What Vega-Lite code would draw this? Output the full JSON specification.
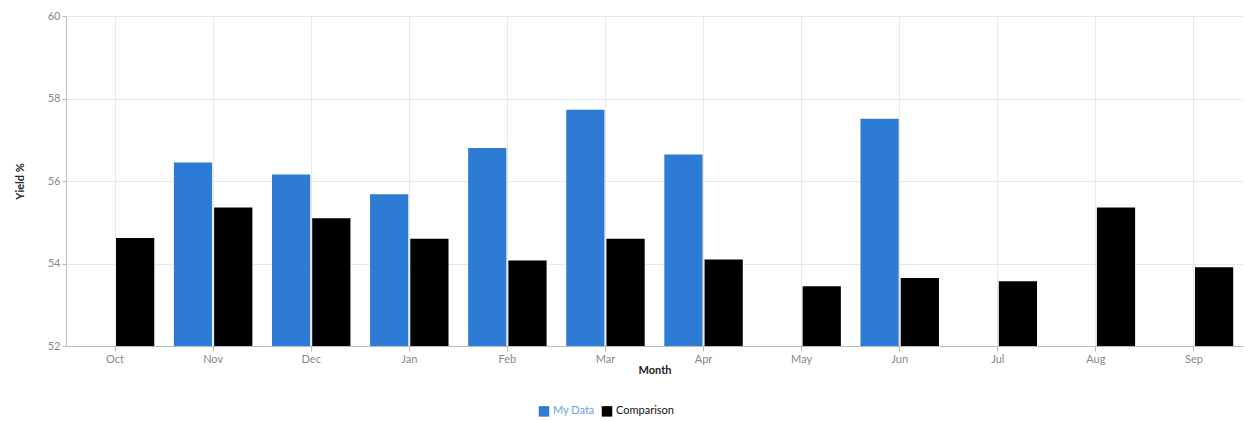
{
  "$schema": "https://vega.github.io/schema/vega-lite/v6.json",
  "width": 1177,
  "height": 330,
  "autosize": {"type": "none"},
  "padding": {"left": 66, "top": 16, "right": 7, "bottom": 75},
  "background": "white",
  "config": {
    "font": "Lato",
    "view": {"stroke": null}
  },
  "data": {
    "values": [
      {"month": "Oct", "series": "Comparison", "yield": 54.62},
      {"month": "Nov", "series": "My Data", "yield": 56.45},
      {"month": "Nov", "series": "Comparison", "yield": 55.36},
      {"month": "Dec", "series": "My Data", "yield": 56.16},
      {"month": "Dec", "series": "Comparison", "yield": 55.1},
      {"month": "Jan", "series": "My Data", "yield": 55.68},
      {"month": "Jan", "series": "Comparison", "yield": 54.6},
      {"month": "Feb", "series": "My Data", "yield": 56.8},
      {"month": "Feb", "series": "Comparison", "yield": 54.07},
      {"month": "Mar", "series": "My Data", "yield": 57.73},
      {"month": "Mar", "series": "Comparison", "yield": 54.6},
      {"month": "Apr", "series": "My Data", "yield": 56.64},
      {"month": "Apr", "series": "Comparison", "yield": 54.1},
      {"month": "May", "series": "Comparison", "yield": 53.45},
      {"month": "Jun", "series": "My Data", "yield": 57.51},
      {"month": "Jun", "series": "Comparison", "yield": 53.65},
      {"month": "Jul", "series": "Comparison", "yield": 53.57},
      {"month": "Aug", "series": "Comparison", "yield": 55.36},
      {"month": "Sep", "series": "Comparison", "yield": 53.91}
    ]
  },
  "mark": {"type": "bar", "clip": true},
  "encoding": {
    "x": {
      "field": "month",
      "type": "nominal",
      "sort": ["Oct", "Nov", "Dec", "Jan", "Feb", "Mar", "Apr", "May", "Jun", "Jul", "Aug", "Sep"],
      "scale": {"paddingInner": 0.2, "paddingOuter": 0.1},
      "axis": {
        "title": "Month",
        "labelAngle": 0,
        "labelColor": "#888",
        "labelFontSize": 11,
        "labelPadding": 2,
        "titleFontSize": 11,
        "titleFontWeight": "bold",
        "titleColor": "#222",
        "titlePadding": 0,
        "domainColor": "#bbb",
        "tickColor": "#bbb",
        "tickSize": 5,
        "grid": true,
        "gridColor": "#e9e9e9"
      }
    },
    "xOffset": {
      "field": "series",
      "type": "nominal",
      "sort": ["My Data", "Comparison"],
      "scale": {"paddingInner": 0.05}
    },
    "y": {
      "field": "yield",
      "type": "quantitative",
      "scale": {"domain": [52, 60], "zero": false, "nice": false},
      "axis": {
        "title": "Yield %",
        "values": [52, 54, 56, 58, 60],
        "labelColor": "#888",
        "labelFontSize": 11,
        "titleFontSize": 11,
        "titleFontWeight": "bold",
        "titleColor": "#222",
        "titlePadding": 22,
        "domainColor": "#bbb",
        "tickColor": "#bbb",
        "tickSize": 4,
        "gridColor": "#e9e9e9"
      }
    },
    "color": {
      "field": "series",
      "type": "nominal",
      "sort": ["My Data", "Comparison"],
      "scale": {"domain": ["My Data", "Comparison"], "range": ["#2e7bd6", "#000000"]},
      "legend": {
        "title": null,
        "orient": "none",
        "direction": "horizontal",
        "legendX": 472,
        "legendY": 389,
        "symbolType": "square",
        "symbolSize": 110,
        "labelFontSize": 11,
        "labelColor": {"expr": "datum.label === 'My Data' ? '#6a9fe0' : '#111'"},
        "columnPadding": 6,
        "labelOffset": 3
      }
    }
  }
}
